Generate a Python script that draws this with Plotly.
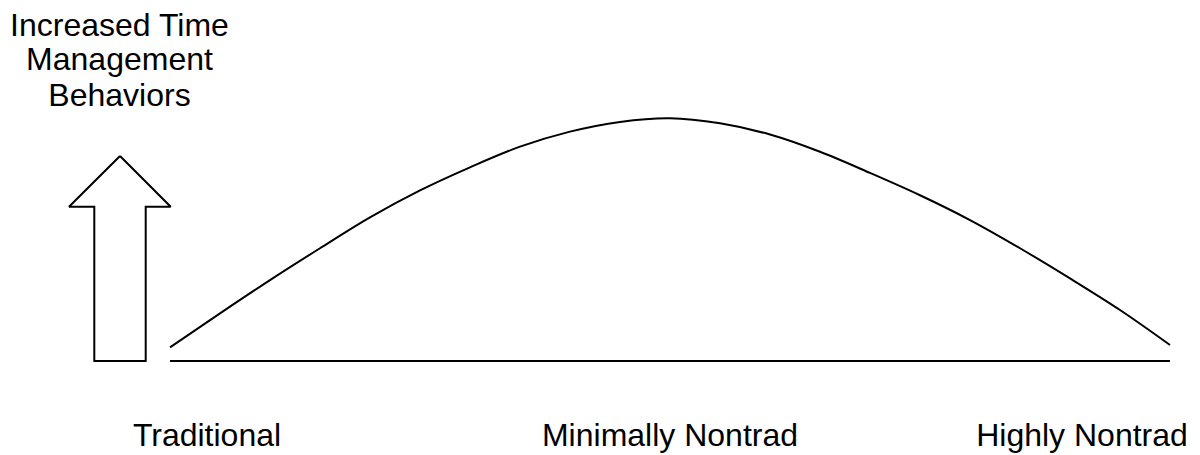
import plotly.graph_objects as go

# Position along the nontraditional dimension (0 = Traditional, 1 = Highly Nontrad)
curve_x = [0.00, 0.05, 0.10, 0.15, 0.20, 0.25, 0.30, 0.35, 0.40, 0.45, 0.50,
           0.55, 0.60, 0.65, 0.70, 0.75, 0.80, 0.85, 0.90, 0.95, 1.00]
# Time management behaviours (relative level)
curve_y = [0.056, 0.196, 0.333, 0.464, 0.591, 0.702, 0.797, 0.882, 0.944, 0.984, 0.999,
           0.978, 0.932, 0.861, 0.774, 0.682, 0.580, 0.464, 0.340, 0.210, 0.066]

category_labels = ["Traditional", "Minimally Nontrad", "Highly Nontrad"]
category_x = [0.037, 0.5, 0.912]

axis_title_lines = ["Increased Time", "Management", "Behaviors"]

# Up-arrow outline (tip, right head, shaft right, shaft left, left head)
arrow_x = [-0.050, 0.0007, -0.0243, -0.0243, -0.0757, -0.0757, -0.101, -0.050]
arrow_y = [0.8436, 0.635, 0.635, 0.0, 0.0, 0.635, 0.635, 0.8436]

FONT = dict(family="Liberation Sans, Arial, sans-serif", size=32, color="black")

fig = go.Figure()

# Baseline
fig.add_trace(go.Scatter(x=[curve_x[0], curve_x[-1]], y=[0, 0], mode="lines",
                         line=dict(color="black", width=2), hoverinfo="skip"))
# Curve
fig.add_trace(go.Scatter(x=curve_x, y=curve_y, mode="lines",
                         line=dict(color="black", width=2, shape="spline", smoothing=1.0),
                         hoverinfo="skip"))
# Arrow
fig.add_trace(go.Scatter(x=arrow_x, y=arrow_y, mode="lines",
                         line=dict(color="black", width=2), hoverinfo="skip"))
# Category labels
fig.add_trace(go.Scatter(x=category_x, y=[-0.3189] * 3, mode="text",
                         text=category_labels, textposition="middle center",
                         textfont=FONT, hoverinfo="skip", cliponaxis=False))
# Axis title
fig.add_trace(go.Scatter(x=[-0.0505] * 3, y=[1.3712, 1.2313, 1.0832], mode="text",
                         text=axis_title_lines, textposition="middle center",
                         textfont=FONT, hoverinfo="skip", cliponaxis=False))

fig.update_layout(
    width=1192, height=455,
    margin=dict(l=0, r=0, t=0, b=0),
    paper_bgcolor="white", plot_bgcolor="white",
    showlegend=False,
    xaxis=dict(range=[-0.162, 1.030], visible=False, fixedrange=True),
    yaxis=dict(range=[-0.4198, 1.4527], visible=False, fixedrange=True),
)

fig.write_html("out.html", config={"displayModeBar": False})
